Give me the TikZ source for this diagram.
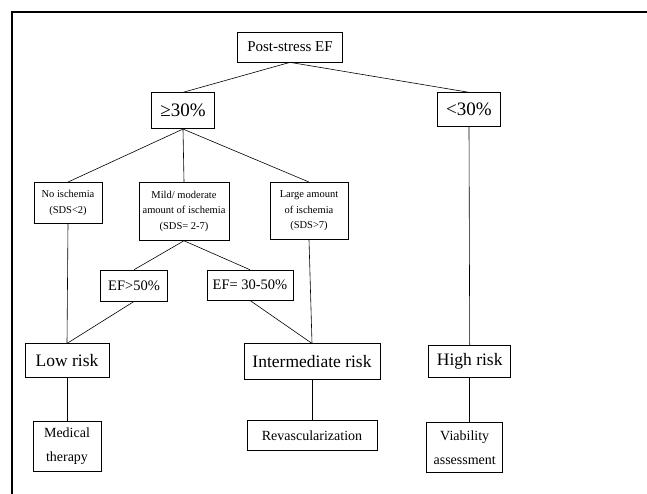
\documentclass[tikz,border=0pt]{standalone}
\usepackage{fontspec}
\setmainfont{Liberation Serif}
\usetikzlibrary{positioning}
\tikzset{
  box/.style     ={draw, line width=0.7pt, align=center, inner sep=2pt},
  smallbox/.style={box, font=\fontsize{10.5}{15.5}\selectfont},
  midbox/.style  ={box, font=\fontsize{14.5}{23}\selectfont},
  bigbox/.style  ={box, font=\fontsize{17.5}{20}\selectfont},
  ln/.style      ={draw, line width=0.6pt},
}
\begin{document}
\begin{tikzpicture}[x=1pt,y=-1pt]
\useasboundingbox (0,0) rectangle (647,494);
\draw[line width=1.6pt] (12,494) -- (12,12) -- (647,12);
% top levels
\node[midbox,font=\fontsize{15}{18}\selectfont,minimum width=105pt,minimum height=30pt] (ef) at (290,47) {Post-stress EF};
\node[bigbox,font=\fontsize{19}{22}\selectfont,minimum width=63pt,minimum height=36pt,below=30pt of ef,xshift=-107pt] (ge) {≥30\%};
\node[bigbox,font=\fontsize{19}{22}\selectfont,minimum width=63pt,minimum height=34pt,below=30pt of ef,xshift=179pt] (lt) {<30\%};
% ischemia
\node[smallbox,minimum width=68pt,minimum height=41pt,below=53pt of ge,xshift=-115pt] (noi) {No ischemia\\(SDS<2)};
\node[smallbox,minimum width=90pt,minimum height=58pt,below=53pt of ge,xshift=1pt] (mild) {Mild/ moderate\\amount of ischemia\\(SDS= 2-7)};
\node[smallbox,minimum width=78pt,minimum height=57pt,below=53pt of ge,xshift=126pt] (large) {Large amount\\of ischemia\\(SDS>7)};
\node[midbox,minimum width=67pt,minimum height=31pt,below=29pt of mild,xshift=-50pt] (ef50) {EF>50\%};
\node[midbox,minimum width=86pt,minimum height=30pt,below=29pt of mild,xshift=66pt] (ef3050) {EF= 30-50\%};
% risk
\node[bigbox,minimum width=84pt,minimum height=34pt,below=42pt of ef50,xshift=-67pt] (low) {Low risk};
\node[bigbox,minimum width=136pt,minimum height=36pt,below=43pt of ef3050,xshift=62pt] (inter) {Intermediate risk};
\node[bigbox,minimum width=82pt,minimum height=32pt,right=48pt of inter] (high) {High risk};
\node[midbox,font=\fontsize{14}{24}\selectfont,minimum width=68pt,minimum height=50pt,below=43pt of low] (med) {Medical\\therapy};
\node[midbox,font=\fontsize{14}{24}\selectfont,minimum width=130pt,minimum height=30pt,below=40pt of inter] (rev) {Revascularization};
\node[midbox,font=\fontsize{14}{24}\selectfont,minimum width=76pt,minimum height=50pt,below=44pt of high,xshift=-5pt] (via) {Viability\\assessment};
\draw[ln] (ef.south)--(ge.north); \draw[ln] (ef.south)--(lt.north);
\draw[ln] (ge.south)--(noi.north); \draw[ln] (ge.south)--(mild.north); \draw[ln] (ge.south)--(large.north);
\draw[ln] (mild.south)--(ef50.north); \draw[ln] (mild.south)--(ef3050.north);
\draw[ln] (noi.south)--(low.north); \draw[ln] (ef50.south)--(low.north);
\draw[ln] (large.south)--(inter.north); \draw[ln] (ef3050.south)--(inter.north);
\draw[ln] (lt.south)--(high.north);
\draw[ln] (low)--(med); \draw[ln] (inter)--(rev); \draw[ln] (high.south)--(high.south |- via.north);
\end{tikzpicture}
\end{document}
